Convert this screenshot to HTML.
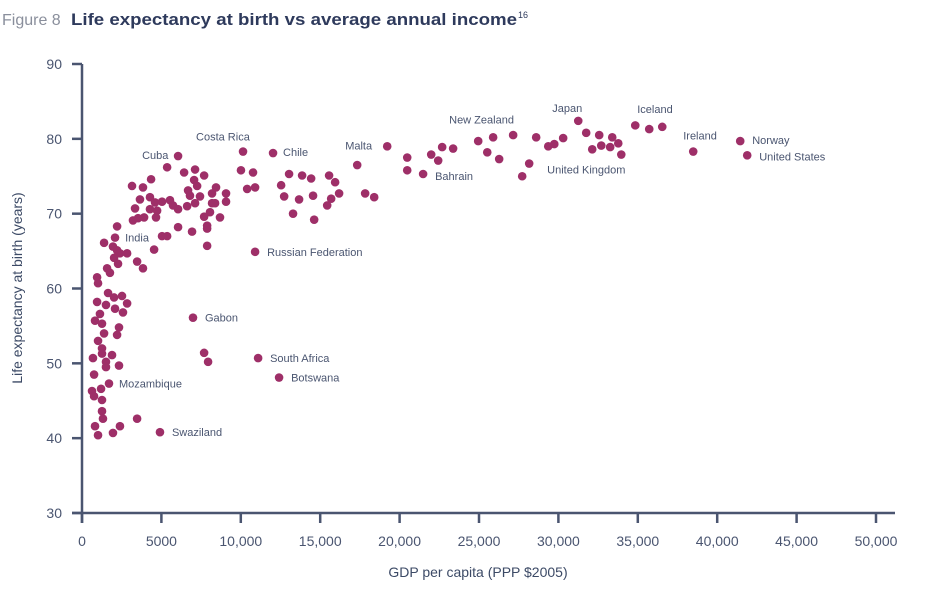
<!DOCTYPE html>
<html><head><meta charset="utf-8">
<style>
body{margin:0;background:#fff;}
svg{display:block;font-family:"Liberation Sans",sans-serif;}
</style></head>
<body>
<svg id="chart" width="938" height="595" viewBox="0 0 938 595">
<text x="2" y="25" font-size="16" fill="#8a8f9c">Figure 8</text>
<text x="71" y="25" font-size="17" fill="#2e3a5c" font-weight="bold" textLength="446" lengthAdjust="spacingAndGlyphs">Life expectancy at birth vs average annual income</text>
<text x="518" y="18" font-size="9" fill="#2e3a5c">16</text>
<g id="axes"></g>
<g id="dots"></g>
<g id="labels"></g>
<text x="478" y="577" font-size="14" fill="#3c4a66" text-anchor="middle">GDP per capita (PPP $2005)</text>
<text transform="translate(22,288) rotate(-90)" font-size="14" fill="#3c4a66" text-anchor="middle">Life expectancy at birth (years)</text>
</svg>
<script>
const gdp=[6050,5360,6430,7120,7690,4350,3150,3840,7060,7250,6680,6800,7430,8440,8190,9070,9070,3650,4280,4600,5040,5540,5730,3340,4280,4730,6050,6620,7120,8190,8380,8060,7690,8690,3210,3530,3910,4660,7880,7880,6050,6930,5040,5360,2210,1390,2080,1950,2210,2390,2840,2020,2270,3470,1580,1760,3840,4540,7880,10900,950,1010,1640,2020,2520,950,1510,2080,2840,2580,1130,820,1260,2330,1390,2210,1010,1260,1260,1890,690,1510,1510,2330,760,1700,630,1200,760,1260,1260,1320,820,1010,1950,2390,3470,4910,6990,7690,7940,11090,12410,10140,12030,10010,10770,10400,10900,13040,13860,14430,15560,15940,12540,12730,13670,14550,16190,15690,15440,13290,14620,17330,17830,18400,19220,20480,20480,21480,21990,22430,22680,23370,24950,25520,25890,26270,27150,28600,29360,29740,30300,28160,27720,31250,31750,32570,33390,33770,32130,32700,33260,33960,34840,35720,36540,38490,41450,41890];
const lifeExp=[77.7,76.2,75.5,75.9,75.1,74.6,73.7,73.5,74.5,73.7,73.1,72.4,72.3,73.5,72.7,72.7,71.6,71.9,72.2,71.5,71.6,71.8,71.1,70.7,70.6,70.4,70.6,71.0,71.4,71.4,71.4,70.2,69.6,69.5,69.1,69.4,69.5,69.5,68.4,68.0,68.2,67.6,67.0,67.0,68.3,66.1,66.8,65.6,65.1,64.7,64.7,64.1,63.3,63.6,62.7,62.1,62.7,65.2,65.7,64.9,61.5,60.7,59.4,58.8,59.0,58.2,57.8,57.3,58.0,56.8,56.6,55.7,55.3,54.8,54.0,53.8,53.0,52.0,51.3,51.1,50.7,50.2,49.5,49.7,48.5,47.3,46.3,46.6,45.6,45.1,43.6,42.6,41.6,40.4,40.7,41.6,42.6,40.8,56.1,51.4,50.2,50.7,48.1,78.3,78.1,75.8,75.5,73.3,73.5,75.3,75.1,74.7,75.1,74.2,73.8,72.3,71.9,72.4,72.7,72.0,71.1,70.0,69.2,76.5,72.7,72.2,79.0,77.5,75.8,75.3,77.9,77.1,78.9,78.7,79.7,78.2,80.2,77.3,80.5,80.2,79.0,79.3,80.1,76.7,75.0,82.4,80.8,80.5,80.2,79.4,78.6,79.1,78.9,77.9,81.8,81.3,81.6,78.3,79.7,77.8];
const labelNames=["Cuba","India","Costa Rica","Chile","Russian Federation","Gabon","South Africa","Botswana","Mozambique","Swaziland","Malta","Bahrain","New Zealand","Japan","Iceland","Ireland","Norway","United States","United Kingdom"];
const labelGdp=[6050,2210,10140,12030,10900,6990,11090,12410,1700,4910,19220,21480,25890,31250,36540,38490,41450,41890,28160];
const labelLife=[77.7,68.3,78.3,78.1,64.9,56.1,50.7,48.1,47.3,40.8,79.0,75.3,80.2,82.4,81.6,78.3,79.7,77.8,76.7];
const labelDx=[-36,8,-47,10,12,12,12,12,10,12,-42,12,-44,-26,-25,-10,12,12,18];
const labelDy=[3,15,-11,3,4,4,4,4,4,4,3,6,-14,-9,-14,-12,3,5,10];
const xTicks=[0,5000,10000,15000,20000,25000,30000,35000,40000,45000,50000];
const xTickLabels=["0","5000","10,000","15,000","20,000","25,000","30,000","35,000","40,000","45,000","50,000"];
const yTicks=[30,40,50,60,70,80,90];

const X=v=>82+v*(794/50000);
const Y=v=>513-(v-30)*(449/60);
const NS="http://www.w3.org/2000/svg";
const ax=document.getElementById('axes');
function mk(tag,attrs,parent){const e=document.createElementNS(NS,tag);for(const k in attrs)e.setAttribute(k,attrs[k]);parent.appendChild(e);return e;}
const col="#4a5570";
let e=mk('line',{x1:82,y1:Y(90),x2:82,y2:523,stroke:col,'stroke-width':2.5},ax);


e=mk('line',{x1:72,y1:513,x2:895,y2:513,stroke:col,'stroke-width':2.5},ax);


xTicks.forEach((t,i)=>{
  let l=mk('line',{x1:X(t),y1:513,x2:X(t),y2:523,stroke:col,'stroke-width':2.5},ax);
  
  
  let tx=mk('text',{x:X(t),y:546,'font-size':14,fill:col,'text-anchor':'middle'},ax);
  tx.textContent=xTickLabels[i];
  
  
});
yTicks.forEach(t=>{
  let l=mk('line',{x1:72,y1:Y(t),x2:82,y2:Y(t),stroke:col,'stroke-width':2.5},ax);
  
  
  let tx=mk('text',{x:62,y:Y(t)+5,'font-size':14,fill:col,'text-anchor':'end'},ax);
  tx.textContent=t;
  
  
});
const dg=document.getElementById('dots');
gdp.forEach((g,i)=>{
  let c=mk('circle',{cx:X(g),cy:Y(lifeExp[i]),r:4.3,fill:"#9e2f68"},dg);
  
  
});
const lg=document.getElementById('labels');
labelNames.forEach((n,i)=>{
  let t=mk('text',{x:X(labelGdp[i])+labelDx[i],y:Y(labelLife[i])+labelDy[i],'font-size':11,fill:"#4a5570"},lg);
  t.textContent=n;
  
  
});
</script>
</body></html>
